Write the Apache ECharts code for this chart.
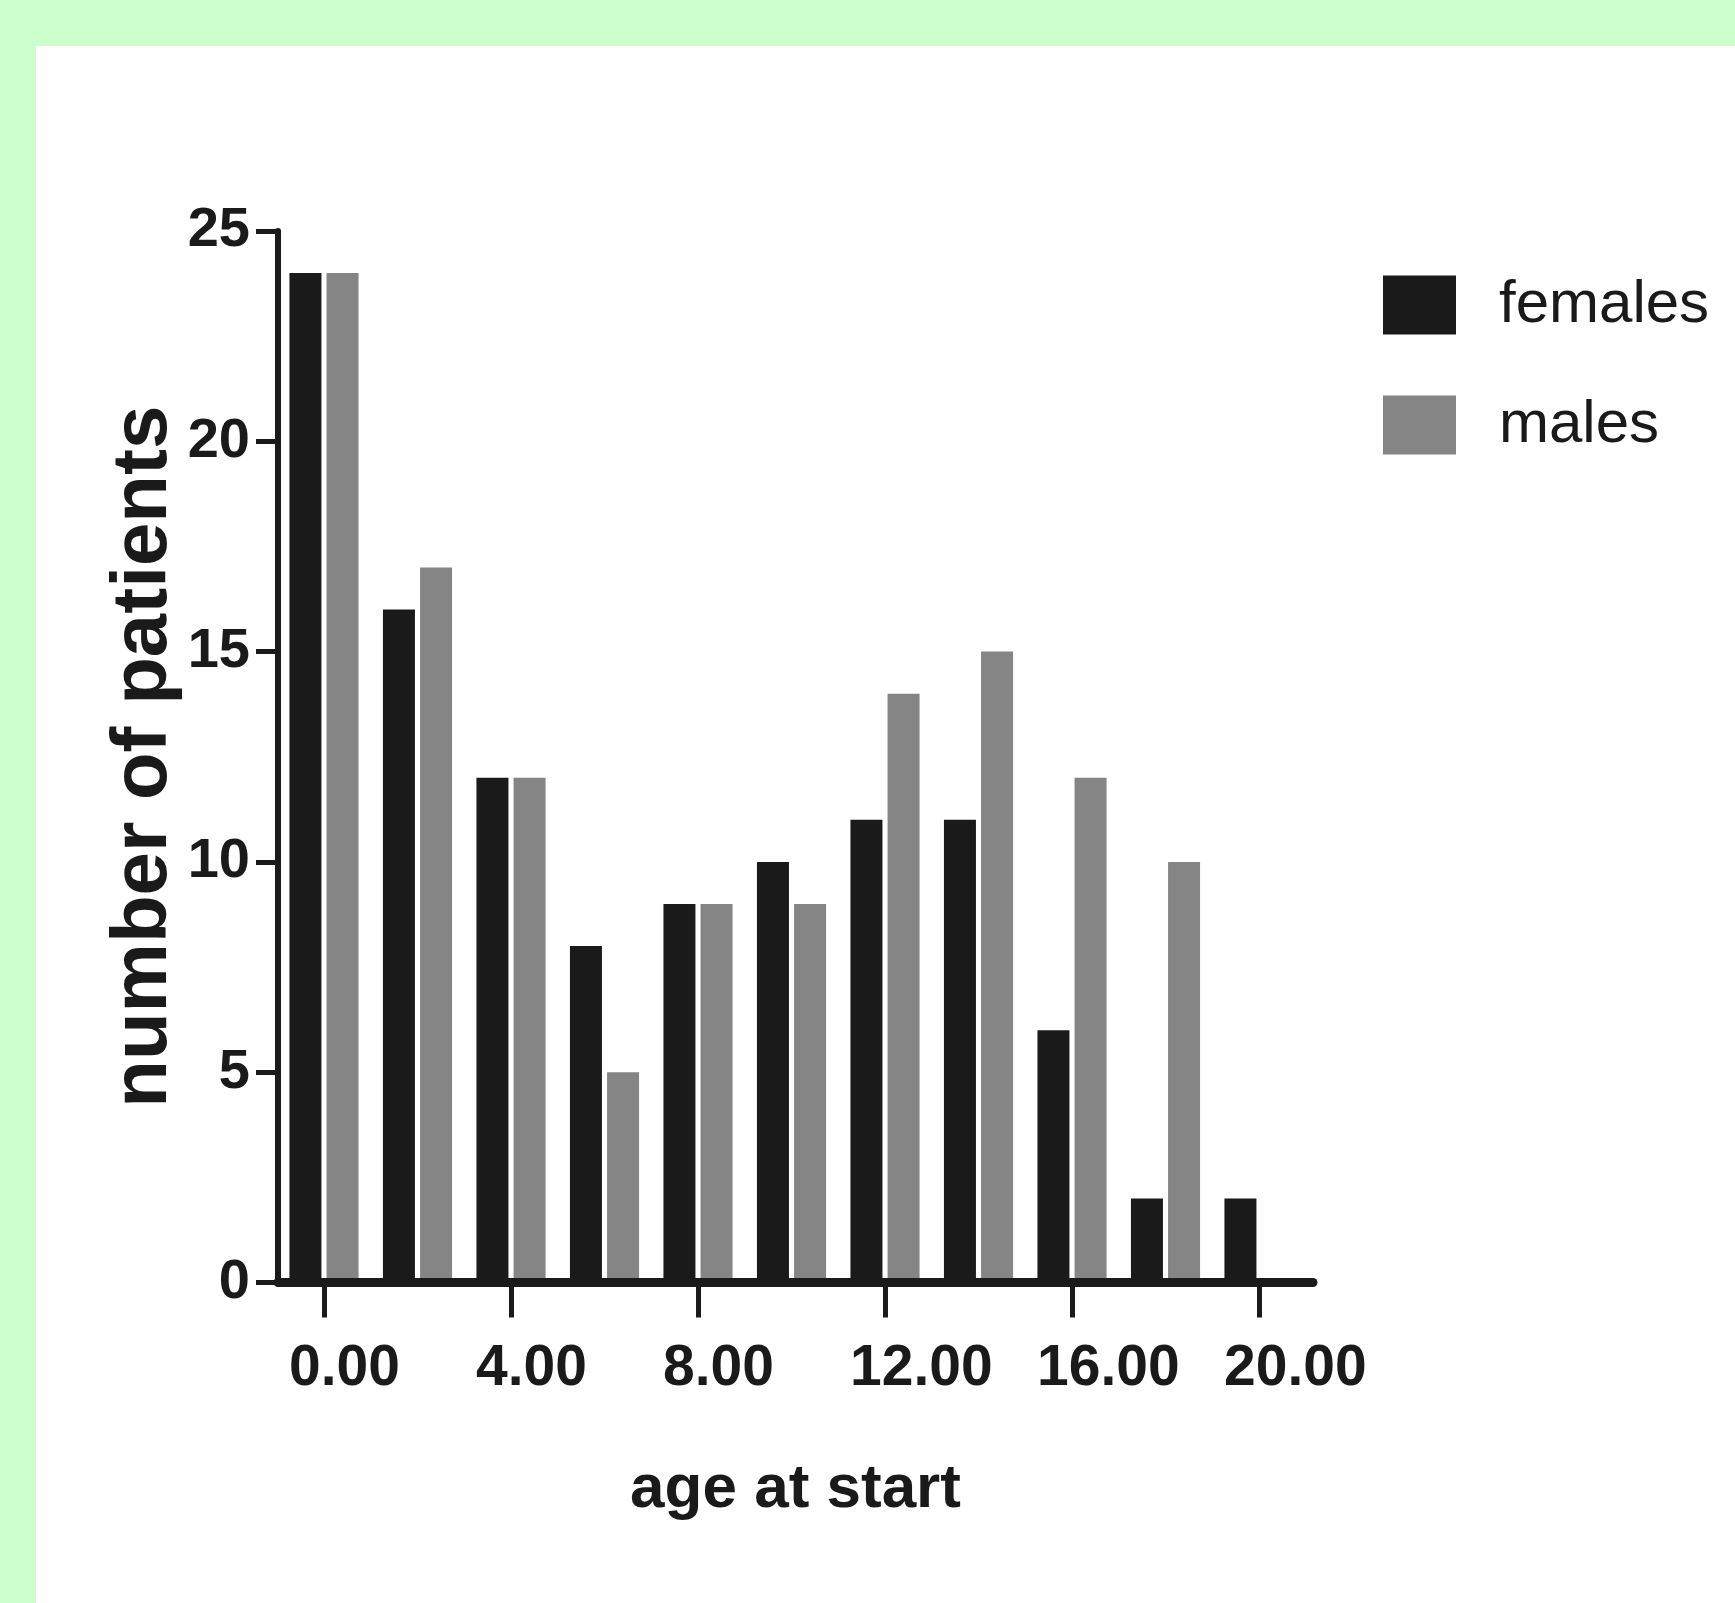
<!DOCTYPE html>
<html>
<head>
<meta charset="utf-8">
<script src="https://cdn.jsdelivr.net/npm/echarts@6/dist/echarts.min.js"></script>
<style>
  html, body { margin: 0; padding: 0; width: 1735px; height: 1603px; background: #ccffcc; overflow: hidden; }
  #chart { position: absolute; left: 36px; top: 46px; width: 1699px; height: 1557px; background: #ffffff; }
</style>
</head>
<body>
<div id="chart"></div>
<script>
// ---- data ----
const ages = [0, 2, 4, 6, 8, 10, 12, 14, 16, 18, 20];
const females = [24, 16, 12, 8, 9, 10, 11, 11, 6, 2, 2];
const males = [24, 17, 12, 5, 9, 9, 14, 15, 12, 10, 0];
const xTickValues = [0, 4, 8, 12, 16, 20];
const yTickValues = [0, 5, 10, 15, 20, 25];
const seriesNames = ['females', 'males'];
const xTitle = 'age at start';
const yTitle = 'number of patients';

const INK = '#1a1a1a';
const GREY = '#858585';
const SANS = '"Liberation Sans", Arial, Helvetica, sans-serif';

const xMin = -0.984, xMax = 21.155;
const labelShift = 0.749; // label left edge sits left of tick

const chart = echarts.init(document.getElementById('chart'));
chart.setOption({
  animation: false,
  grid: { left: 242, right: 422, top: 185, bottom: 320.5, containLabel: false, outerBoundsMode: 'none' },
  legend: {
    orient: 'vertical',
    left: 1347, top: 229, padding: 0,
    itemWidth: 73, itemHeight: 59, itemGap: 60,
    icon: 'rect',
    data: seriesNames,
    textStyle: { fontFamily: SANS, fontSize: 60, color: INK, padding: [0, 0, 0, 38] }
  },
  xAxis: [
    {
      type: 'value', min: xMin, max: xMax, z: 3,
      splitLine: { show: false },
      axisLine: { show: true, onZero: true, lineStyle: { color: INK, width: 9 } },
      axisTick: { show: true, customValues: xTickValues, length: 35, lineStyle: { color: INK, width: 5 } },
      axisLabel: { show: false },
      name: xTitle, nameLocation: 'middle', nameGap: 176, nameMoveOverlap: false,
      nameTextStyle: { fontFamily: SANS, fontWeight: 'bold', fontSize: 62, color: INK }
    },
    {
      type: 'value', min: xMin + labelShift, max: xMax + labelShift, position: 'bottom',
      splitLine: { show: false },
      axisLine: { show: false, onZero: false },
      axisTick: { show: false },
      axisLabel: {
        show: true, customValues: xTickValues, align: 'left', margin: 58,
        formatter: v => Number(v).toFixed(2),
        fontFamily: SANS, fontWeight: 'bold', fontSize: 57, color: INK
      }
    }
  ],
  yAxis: {
    type: 'value', min: 0, max: 25, interval: 5, z: 3,
    splitLine: { show: false },
    axisLine: { show: true, onZero: false, lineStyle: { color: INK, width: 6 } },
    axisTick: { show: true, length: 22, lineStyle: { color: INK, width: 5 } },
    axisLabel: {
      margin: 28, formatter: v => String(v),
      fontFamily: SANS, fontWeight: 'bold', fontSize: 56, color: INK
    },
    name: yTitle, nameLocation: 'middle', nameRotate: 90, nameGap: 95, nameMoveOverlap: false,
    nameTextStyle: { fontFamily: SANS, fontWeight: 'bold', fontSize: 78, color: INK }
  },
  series: [
    {
      name: seriesNames[0], type: 'bar', xAxisIndex: 0,
      barWidth: 32, barGap: '16%',
      itemStyle: { color: INK },
      data: ages.map((a, i) => [a, females[i]])
    },
    {
      name: seriesNames[1], type: 'bar', xAxisIndex: 0,
      barWidth: 32, barGap: '16%',
      itemStyle: { color: GREY },
      data: ages.map((a, i) => [a, males[i]])
    }
  ]
});
</script>
</body>
</html>
